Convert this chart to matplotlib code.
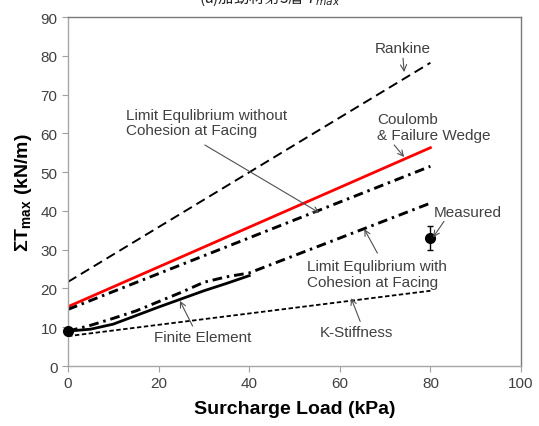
import numpy as np
import matplotlib
matplotlib.use("Agg")
import matplotlib.pyplot as plt

plt.rcParams['font.family'] = ['Liberation Sans', 'DejaVu Sans']
plt.rcParams['mathtext.fontset'] = 'custom'
plt.rcParams['mathtext.rm'] = 'Liberation Sans'
plt.rcParams['mathtext.bf'] = 'Liberation Sans:bold'
plt.rcParams['lines.scale_dashes'] = False

# data (kPa -> kN/m)
x_line = [0, 80]
rankine = [21.7, 78.2]
coulomb = [15.3, 56.3]
le_no_coh = [14.6, 51.5]
kstiff = [7.7, 19.4]

x_le_coh = [0, 5, 10, 15, 20, 25, 30, 35, 40, 60, 80]
le_coh = [9.0, 10.5, 12.3, 14.2, 16.6, 19.0, 21.6, 23.0, 24.0, 33.0, 42.0]

x_fe = [0, 5, 10, 15, 20, 25, 30, 35, 40]
fe = [9.0, 9.5, 10.8, 13.0, 15.2, 17.3, 19.4, 21.3, 23.3]

meas_x = 80
meas_y = 33.0
meas_lo = 30.0
meas_hi = 36.0

fig = plt.figure(figsize=(5.39, 4.27), dpi=100)
ax = fig.add_axes([0.1262, 0.1405, 0.8404, 0.8173])

ax.plot(x_line, rankine, color='black', lw=1.4, dashes=(7, 3.8))
ax.plot(x_line, coulomb, color='#ff0000', lw=2.0)
ax.plot(x_line, le_no_coh, color='black', lw=2.1, dashes=(7, 3.5, 1.8, 3.5))
ax.plot(x_le_coh, le_coh, color='black', lw=2.1, dashes=(7, 3.5, 1.8, 3.5))
ax.plot(x_fe, fe, color='black', lw=2.0)
ax.plot(x_line, kstiff, color='black', lw=1.3, dashes=(3.2, 1.8))
ax.plot([0], [9.0], 'o', color='black', ms=7, clip_on=False, zorder=5)
ax.errorbar([meas_x], [meas_y], yerr=[[meas_y - meas_lo], [meas_hi - meas_y]],
            fmt='o', color='black', ms=7, capsize=2.5, elinewidth=1.0)

txt = '#404040'
fs = 11
ls = 1.15
arr = dict(arrowstyle='->', color='#505050', lw=0.8, shrinkA=0, shrinkB=0)
ax.annotate('Rankine', xy=(74.2, 75.8), xytext=(73.8, 81.9), ha='center', va='center',
            fontsize=fs, color=txt, arrowprops=arr)
ax.annotate('Coulomb\n& Failure Wedge', xy=(74.2, 53.9), xytext=(68.2, 61.6),
            ha='left', va='center', fontsize=fs, color=txt, linespacing=ls)
ax.annotate('', xy=(74.2, 53.9), xytext=(72.0, 57.0), arrowprops=arr)
ax.annotate('Limit Equlibrium without\nCohesion at Facing', xy=(55.5, 39.5),
            xytext=(12.8, 62.8), ha='left', va='center', fontsize=fs, color=txt,
            linespacing=ls)
ax.annotate('', xy=(55.5, 39.5), xytext=(30.2, 57.0), arrowprops=arr)
ax.annotate('Limit Equlibrium with\nCohesion at Facing', xy=(65.4, 35.3),
            xytext=(52.8, 23.8), ha='left', va='center', fontsize=fs, color=txt,
            linespacing=ls)
ax.annotate('', xy=(65.4, 35.3), xytext=(68.3, 29.1), arrowprops=arr)
ax.annotate('Measured', xy=(80.6, 33.2), xytext=(80.8, 39.7), ha='left', va='center',
            fontsize=fs, color=txt)
ax.annotate('', xy=(80.6, 33.2), xytext=(83.0, 37.3), arrowprops=arr)
ax.annotate('Finite Element', xy=(24.7, 16.8), xytext=(18.9, 7.5), ha='left',
            va='center', fontsize=fs, color=txt)
ax.annotate('', xy=(24.7, 16.8), xytext=(27.5, 10.3), arrowprops=arr)
ax.annotate('K-Stiffness', xy=(62.5, 17.5), xytext=(55.5, 8.8), ha='left',
            va='center', fontsize=fs, color=txt)
ax.annotate('', xy=(62.5, 17.5), xytext=(64.5, 11.5), arrowprops=arr)

ax.set_xlim(0, 100)
ax.set_ylim(0, 90)
ax.set_xticks(np.arange(0, 101, 20))
ax.set_yticks(np.arange(0, 91, 10))
ax.tick_params(direction='out', length=4, width=0.8, color='#a0a0a0',
               labelsize=11, labelcolor=txt)
for s in ['left', 'bottom']:
    ax.spines[s].set_color('#a6a6a6')
for s in ['top', 'right']:
    ax.spines[s].set_color('#7a7a7a')
for s in ax.spines.values():
    s.set_linewidth(1.0)

ax.set_xlabel('Surcharge Load (kPa)', fontsize=14, fontweight='bold', labelpad=7)
ax.set_ylabel(r'ΣT$_{\mathbf{max}}$ (kN/m)', fontsize=14, fontweight='bold', labelpad=5)

fig.text(0.5, 1.004, '(a)加勁材第3層 $T_{max}$', ha='center', va='center', fontsize=11,
         family=['Noto Sans CJK TC', 'DejaVu Sans'], color='#222222')

fig.savefig('out.png', dpi=100)
